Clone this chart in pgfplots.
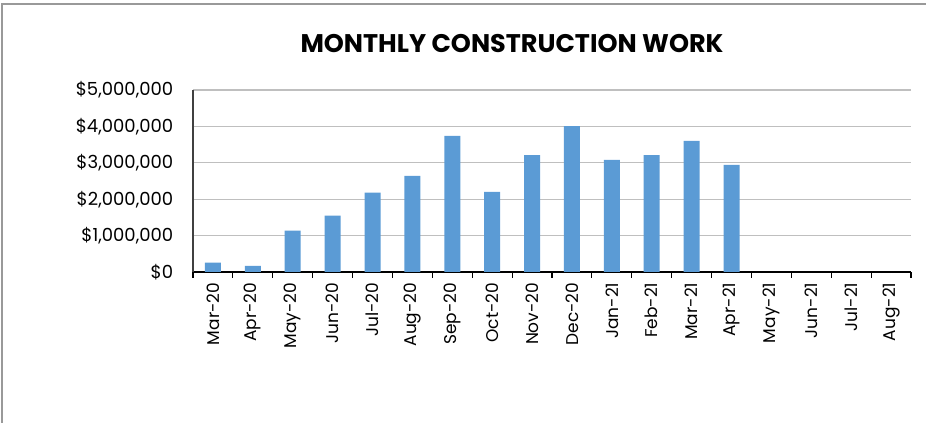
\documentclass[border=0pt]{standalone}
\usepackage{fontspec}
\setmainfont{Poppins}
\usepackage{pgfplots}
\pgfplotsset{compat=1.18}
\definecolor{barblue}{HTML}{5B9BD5}
\definecolor{gridgray}{HTML}{BFBFBF}
\begin{document}
\begin{tikzpicture}
\path[use as bounding box] (0,0) rectangle (926bp,423bp);
\draw[color=gray!80, line width=1.5bp] (2bp,0) -- (2bp,419bp) -- (926bp,419bp);
\node[font=\bfseries\fontsize{25.5bp}{30bp}\selectfont] at (512bp,379bp) {MONTHLY CONSTRUCTION WORK};
\begin{axis}[
  at={(193bp,151bp)}, anchor=south west,
  scale only axis, width=718bp, height=182bp,
  xmin=-0.5, xmax=17.5, ymin=0, ymax=5000000,
  axis x line*=bottom, axis y line*=left,
  x axis line style={black, line width=1.2bp, -},
  y axis line style={darkgray, line width=1.2bp, -},
  ybar, bar width=16bp,
  xtick={0,...,17},
  xticklabels={Mar-20,Apr-20,May-20,Jun-20,Jul-20,Aug-20,Sep-20,Oct-20,Nov-20,Dec-20,Jan-21,Feb-21,Mar-21,Apr-21,May-21,Jun-21,Jul-21,Aug-21},
  major x tick style={draw=none},
  minor xtick={-0.5,0.5,...,17.5},
  minor x tick style={black, line width=1.2bp},
  minor tick length=6bp,
  tick align=outside,
  ytick={0,1000000,2000000,3000000,4000000,5000000},
  yticklabels={{\$0},{\$1,000,000},{\$2,000,000},{\$3,000,000},{\$4,000,000},{\$5,000,000}},
  y tick style={draw=none},
  ymajorgrids, grid style={gridgray, line width=1.2bp},
  scaled y ticks=false,
  xticklabel style={rotate=90, anchor=east, font=\fontsize{17bp}{19bp}\selectfont, xshift=-3bp},
  yticklabel style={font=\fontsize{18bp}{20bp}\selectfont, xshift=-12bp},
]
\addplot[fill=barblue, draw=none] coordinates {
  (0,255000) (1,170000) (2,1135000) (3,1547000) (4,2180000) (5,2640000)
  (6,3740000) (7,2200000) (8,3210000) (9,4010000) (10,3080000) (11,3210000)
  (12,3600000) (13,2940000)
};
\end{axis}
\end{tikzpicture}
\end{document}
